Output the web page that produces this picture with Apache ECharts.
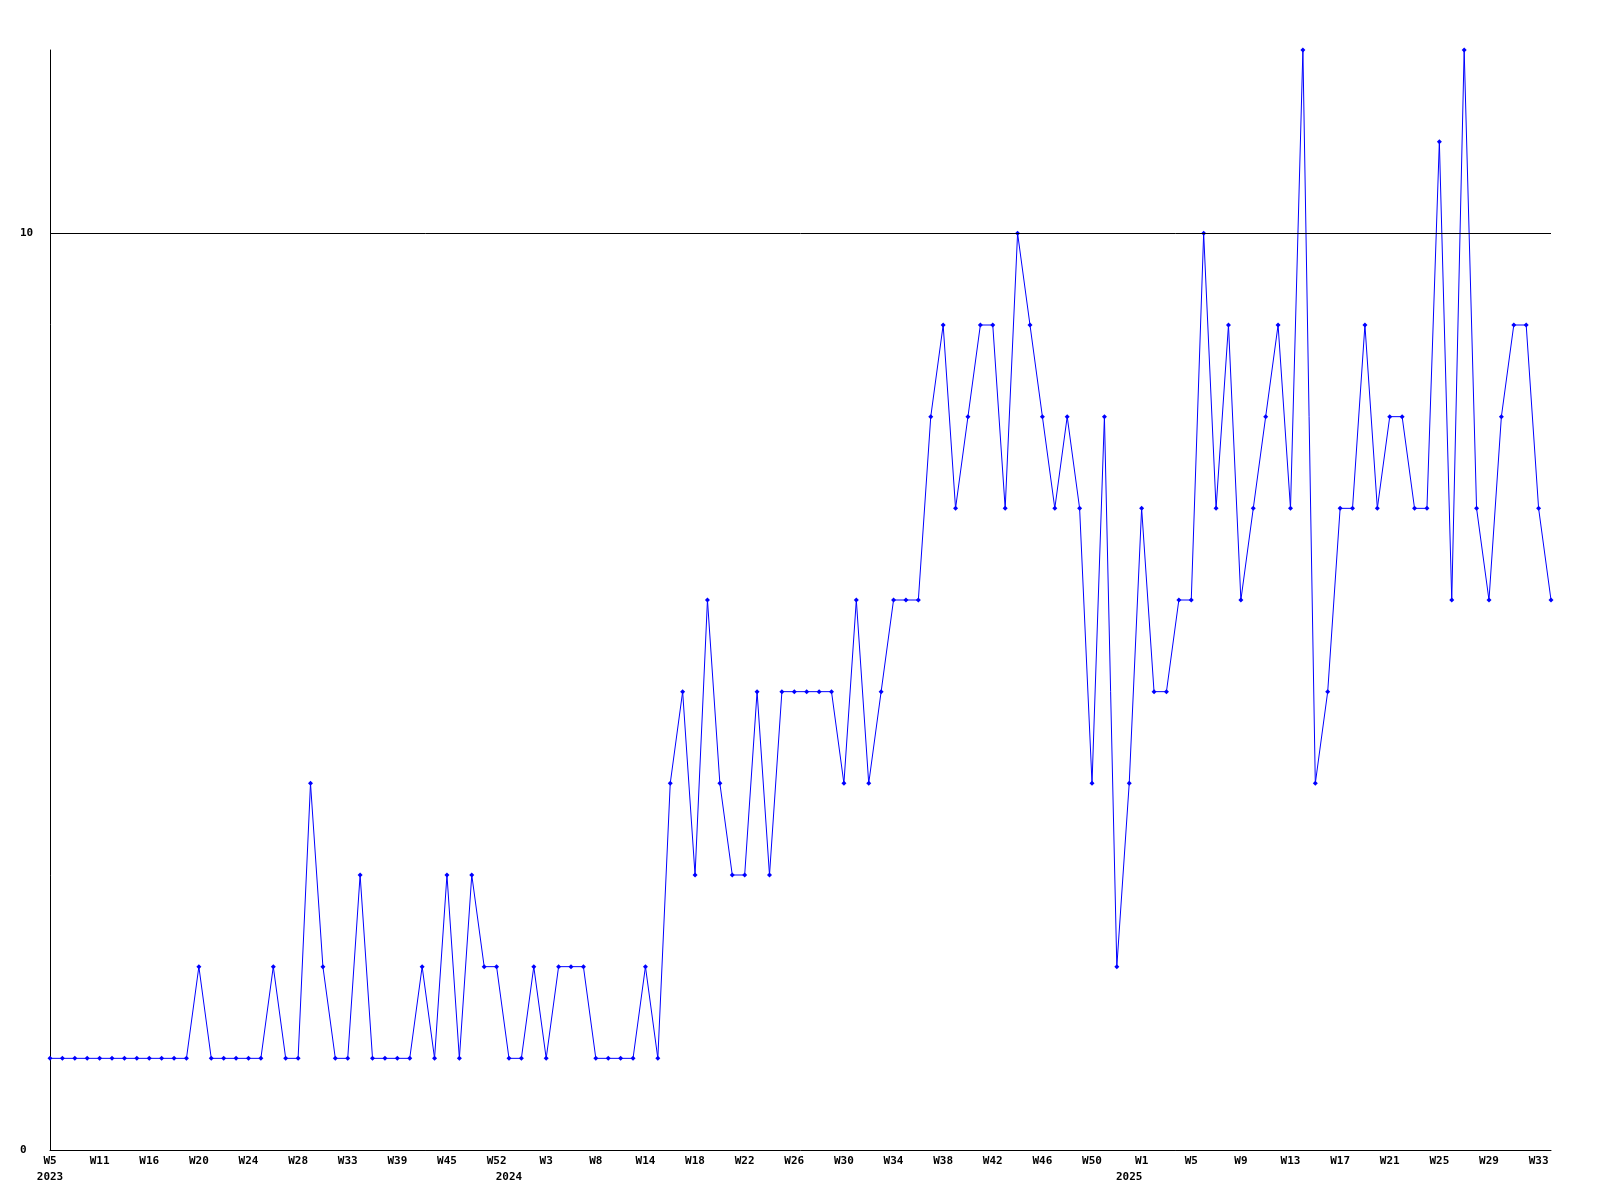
<!DOCTYPE html>
<html>
<head>
<meta charset="utf-8">
<script src="https://cdn.jsdelivr.net/npm/echarts@6/dist/echarts.min.js"></script>
<style>
html,body{margin:0;padding:0;background:#fff;}
#chart{width:1600px;height:1200px;}
</style>
</head>
<body>
<div id="chart"></div>
<script>
// Tick labels shown on the x axis (one every 4 points)
const tickLabels = ['W5','W11','W16','W20','W24','W28','W33','W39','W45','W52',
  'W3','W8','W14','W18','W22','W26','W30','W34','W38','W42','W46','W50',
  'W1','W5','W9','W13','W17','W21','W25','W29','W33'];
// Year labels and the point index where each year starts
const yearNames = ['2023','2024','2025'];
const yearStarts = [0, 37, 87];
// Series values (one per point)
const values = [
  1,1,1,1,1,1,1,1,1,1,1,1,
  2,1,1,1,1,1,2,1,1,4,2,1,1,3,1,1,1,1,2,1,3,1,3,2,2,1,1,2,1,2,2,2,
  1,1,1,1,2,1,4,5,3,6,4,3,3,5,3,5,5,5,5,5,4,6,4,5,6,6,6,
  8,9,7,8,9,9,7,10,9,8,7,8,7,4,8,2,4,7,5,5,6,6,10,7,9,6,7,
  8,9,7,12,4,5,7,7,9,7,8,8,7,7,11,6,12,7,6,8,9,9,7,6
];
const refLine = 10;

const categories = values.map((v, i) => (i % 4 === 0 && tickLabels[i / 4]) ? tickLabels[i / 4] + '#' + i : 'p' + i);

const chart = echarts.init(document.getElementById('chart'), null, {renderer: 'canvas'});
const font = {fontFamily: 'DejaVu Sans Mono', fontSize: 11, fontWeight: 'bold', color: '#000'};
chart.setOption({
  animation: false,
  backgroundColor: '#fff',
  grid: {left: 50, right: 49, top: 50, bottom: 50, containLabel: false},
  xAxis: [{
    type: 'category',
    data: categories,
    boundaryGap: false,
    axisLine: {show: true, lineStyle: {color: '#000', width: 1}},
    axisTick: {show: false},
    splitLine: {show: false},
    axisLabel: Object.assign({
      interval: (i) => i % 4 === 0,
      margin: 6,
      formatter: (v) => v.startsWith('p') ? '' : v.split('#')[0]
    }, font)
  }, {
    type: 'category',
    data: categories,
    boundaryGap: false,
    position: 'bottom',
    offset: 16,
    axisLine: {show: false},
    axisTick: {show: false},
    splitLine: {show: false},
    axisLabel: Object.assign({
      interval: (i) => yearStarts.indexOf(i) >= 0,
      margin: 6,
      formatter: (v, i) => { const k = yearStarts.indexOf(i); return k >= 0 ? yearNames[k] : ''; }
    }, font)
  }],
  yAxis: {
    type: 'value',
    min: 0,
    max: 12,
    interval: 10,
    axisLine: {show: true, lineStyle: {color: '#000', width: 1}},
    axisTick: {show: false},
    splitLine: {show: false},
    axisLabel: Object.assign({
      showMaxLabel: false,
      align: 'left',
      margin: 30
    }, font)
  },
  series: [{
    type: 'line',
    xAxisIndex: 0,
    data: values,
    symbol: 'diamond',
    symbolSize: 5,
    showAllSymbol: true,
    lineStyle: {color: '#0000ff', width: 1},
    itemStyle: {color: '#0000ff'},
    markLine: {
      silent: true,
      symbol: ['none', 'none'],
      label: {show: false},
      lineStyle: {color: '#000', width: 1, type: 'solid'},
      data: [{yAxis: refLine}]
    },
    z: 3
  }]
});
</script>
</body>
</html>
